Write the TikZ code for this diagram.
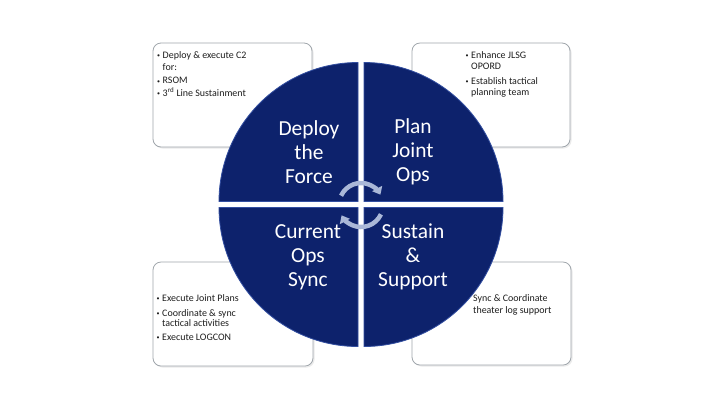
\documentclass[tikz,border=0pt]{standalone}
\usepackage{fontspec}
\setmainfont{Carlito}
\usetikzlibrary{arrows.meta}
\definecolor{navy}{RGB}{13,34,108}
\definecolor{rim}{RGB}{50,78,160}
\definecolor{boxline}{RGB}{160,166,172}
\definecolor{arcblue}{RGB}{170,184,216}
\definecolor{txt}{RGB}{30,30,30}
\newcommand{\bul}{\raisebox{0.7bp}{\fontsize{6}{6}\selectfont •}}
\begin{document}
\begin{tikzpicture}[x=1bp,y=-1bp,
  infobox/.style={draw=boxline,line width=0.8bp,fill=white,rounded corners=8bp},
  boxshadow/.style={fill=black!8,rounded corners=8bp},
  boxtext/.style={anchor=north west,inner sep=0pt,text=txt,font=\fontsize{10}{12}\selectfont},
  quad/.style={fill=navy,draw=rim,line width=0.8bp},
  qlabel/.style={text=white,align=center,inner sep=0pt,font=\fontsize{21.5}{24}\selectfont},
  cyclearc/.style={draw=arcblue,line width=4.5bp,-{Triangle[length=7bp,width=11bp]}}]
\useasboundingbox (0,0) rectangle (727,412);
\fill[white] (0,0) rectangle (727,412);
% boxes
\foreach \a/\b/\c/\d in {153/43/312/147, 412/43/570/147, 153/262/313/366, 412/262/571/365}{
  \fill[boxshadow] (\a+1.5,\b+1.5) rectangle (\c+1.5,\d+1.5);
  \draw[infobox] (\a,\b) rectangle (\c,\d);
}
\node[boxtext] (tltext) at (157,50) {%
  \begin{tabular}{@{}p{5.5bp}@{}l@{}}
  \bul & Deploy \& execute C2\\
       & for:\\[1.5bp]
  \bul & RSOM\\[0.5bp]
  \bul & 3\textsuperscript{rd} Line Sustainment
  \end{tabular}};
\node[boxtext] (trtext) at (465.5,49.5) {%
  \begin{tabular}{@{}p{5.5bp}@{}l@{}}
  \bul & Enhance JLSG\\[-1bp]
       & OPORD\\[3.5bp]
  \bul & Establish tactical\\[-0.5bp]
       & planning team
  \end{tabular}};
\node[boxtext] (bltext) at (156.5,293) {%
  \begin{tabular}{@{}p{5.5bp}@{}l@{}}
  \bul & Execute Joint Plans\\[2.5bp]
  \bul & Coordinate \& sync\\[-1bp]
       & tactical activities\\[1.5bp]
  \bul & Execute LOGCON
  \end{tabular}};
\node[boxtext] (brtext) at (473,293) {%
  \begin{tabular}{@{}l@{}}
  Sync \& Coordinate\\
  theater log support
  \end{tabular}};
% quadrants
\def\R{139}
\path[quad] (358,201.5) -- ++(180:\R) arc[start angle=180,end angle=270,radius=\R] -- cycle;
\path[quad] (364,201.5) -- ++(270:\R) arc[start angle=270,end angle=360,radius=\R] -- cycle;
\path[quad] (364,207.5) -- ++(0:\R) arc[start angle=0,end angle=90,radius=\R] -- cycle;
\path[quad] (358,207.5) -- ++(90:\R) arc[start angle=90,end angle=180,radius=\R] -- cycle;
% labels
\node[qlabel] (deploy) at (309,152) {Deploy\\the\\Force};
\node[qlabel] (plan) at (413,152) {Plan\\Joint\\Ops};
\node[qlabel] (current) at (308,257) {Current\\Ops\\Sync};
\node[qlabel] (sustain) at (413,257) {Sustain\\\&\\Support};
% cycle arrows
\coordinate (cc) at (361,205);
\draw[cyclearc] (cc) ++(-155:22) arc[start angle=-155,end angle=-28,radius=22];
\draw[cyclearc] (cc) ++(25:22) arc[start angle=25,end angle=152,radius=22];
\end{tikzpicture}
\end{document}
